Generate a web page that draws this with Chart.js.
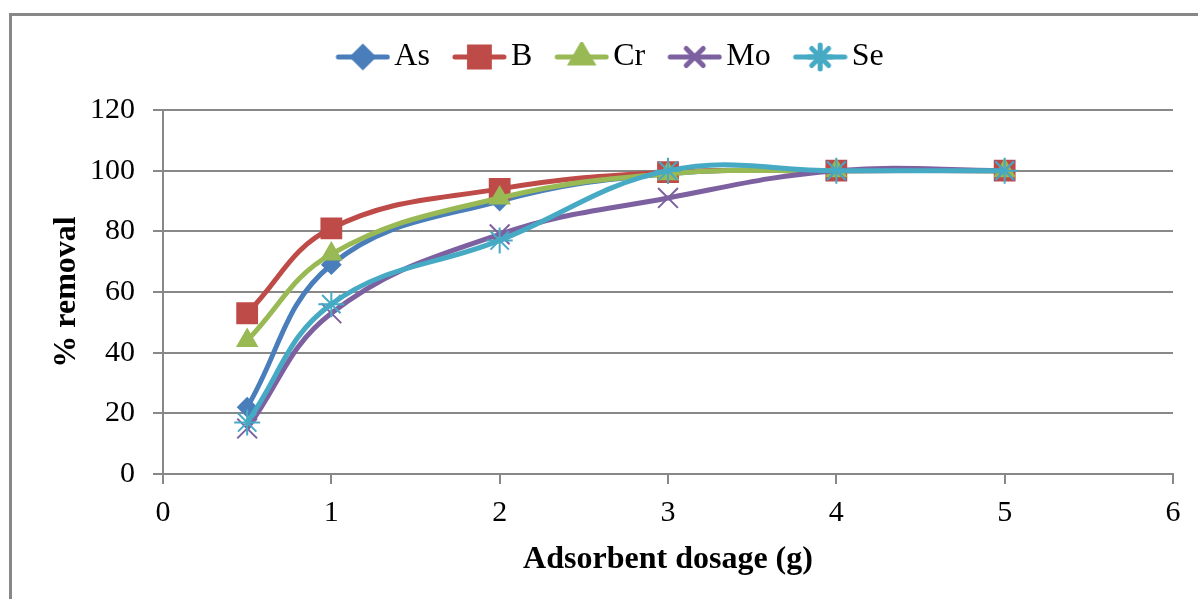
<!DOCTYPE html>
<html>
<head>
<meta charset="utf-8">
<title>% removal vs adsorbent dosage</title>
<script src="https://cdn.jsdelivr.net/npm/chart.js@4.4.0/dist/chart.umd.min.js"></script>
<style>
    html, body { margin: 0; padding: 0; background: #fff; }
    #wrap { position: relative; width: 1198px; height: 599px; overflow: hidden; }
    #frame { position: absolute; left: 9px; top: 13px; width: 1300px; height: 700px; border: 3px solid #888; box-sizing: border-box; }
    canvas { position: absolute; left: 0; top: 0; }
</style>
</head>
<body>
<div id="wrap">
    <div id="frame"></div>
    <canvas id="removalChart" width="1198" height="599"></canvas>
</div>
<script>
// Data
const dosage = [0.5, 1, 2, 3, 4, 5];
const asRemoval = [22, 69, 90, 99, 100, 100];
const bRemoval  = [53, 81, 94, 99.5, 100, 100];
const crRemoval = [44, 72.5, 91, 99, 100, 100];
const moRemoval = [15, 53, 79, 91, 100, 100];
const seRemoval = [17, 56, 77, 100, 100, 100];
const yTicks = [0, 20, 40, 60, 80, 100, 120];
const xTicks = [0, 1, 2, 3, 4, 5, 6];

const FONT = "'Liberation Serif', 'Times New Roman', serif";

const series = [
    { label: 'As', values: asRemoval, color: '#4A7EBB', style: 'rectRot', radius: 9 },
    { label: 'B',  values: bRemoval,  color: '#BE4B48', style: 'rect',    radius: 14 },
    { label: 'Cr', values: crRemoval, color: '#98B954', style: 'triangle', radius: 11 },
    { label: 'Mo', values: moRemoval, color: '#7D60A0', style: 'crossRot', radius: 14 },
    { label: 'Se', values: seRemoval, color: '#46AAC5', style: 'star',    radius: 13 }
];

// small canvas with line + marker, used as legend symbol
function legendSymbol(s) {
    const c = document.createElement('canvas');
    c.width = 67;
    c.height = 30;
    const ctx = c.getContext('2d');
    ctx.strokeStyle = s.color;
    ctx.lineWidth = 5;
    ctx.lineCap = 'round';
    ctx.beginPath();
    ctx.moveTo(15, 15);
    ctx.lineTo(64, 15);
    ctx.stroke();
    ctx.fillStyle = s.color;
    Chart.helpers.drawPoint(ctx, {
        pointStyle: s.style,
        radius: s.style === 'rect' ? 14 : (s.style === 'rectRot' ? 10 : 12),
        rotation: 0,
        borderWidth: 2
    }, 39.5, 15);
    return c;
}

// extra room between legend and plot area
const legendGap = {
    id: 'legendGap',
    afterInit(chart) {
        const legend = chart.legend;
        const fit = legend.fit;
        legend.fit = function () {
            fit.call(this);
            this.height += 27;
        };
    }
};

const ctx = document.getElementById('removalChart').getContext('2d');
const chart = new Chart(ctx, {
    type: 'line',
    data: {
        datasets: series.map((s, i) => ({
            label: s.label,
            data: dosage.map((x, j) => ({ x: x, y: s.values[j] })),
            borderColor: s.color,
            backgroundColor: s.color,
            pointBackgroundColor: s.color,
            pointBorderColor: s.color,
            borderWidth: 5,
            pointStyle: s.style,
            pointRadius: s.radius,
            pointHoverRadius: s.radius,
            pointBorderWidth: 2,
            tension: 0.4,
            fill: false,
            order: series.length - i
        }))
    },
    options: {
        responsive: false,
        animation: false,
        layout: { padding: { left: 46, right: 25, top: 19, bottom: 0 } },
        plugins: {
            tooltip: { enabled: false },
            legend: {
                position: 'top',
                labels: {
                    usePointStyle: true,
                    pointStyleWidth: 43,
                    padding: 22,
                    color: '#000',
                    font: { family: FONT, size: 32 },
                    generateLabels: chart => chart.data.datasets.map((ds, i) => ({
                        text: ds.label,
                        datasetIndex: i,
                        pointStyle: legendSymbol(series[i]),
                        fillStyle: series[i].color,
                        strokeStyle: series[i].color,
                        lineWidth: 0,
                        fontColor: '#000',
                        hidden: false
                    }))
                }
            }
        },
        scales: {
            x: {
                type: 'linear',
                min: xTicks[0],
                max: xTicks[xTicks.length - 1],
                afterBuildTicks: scale => { scale.ticks = xTicks.map(v => ({ value: v })); },
                afterFit: scale => { scale.height = 125; },
                grid: { drawOnChartArea: false, drawTicks: true, tickLength: 10, color: '#888', lineWidth: 2 },
                border: { display: true, color: '#888', width: 2 },
                ticks: { color: '#000', padding: 11, font: { family: FONT, size: 30 } },
                title: {
                    display: true,
                    text: 'Adsorbent dosage (g)',
                    color: '#000',
                    font: { family: FONT, size: 32, weight: 'bold' },
                    padding: { top: 0, bottom: 20 }
                }
            },
            y: {
                min: yTicks[0],
                max: yTicks[yTicks.length - 1],
                afterBuildTicks: scale => { scale.ticks = yTicks.map(v => ({ value: v })); },
                afterFit: scale => { scale.width = 117; },
                grid: { color: '#888', lineWidth: 2, tickLength: 10 },
                border: { display: true, color: '#888', width: 2 },
                ticks: { color: '#000', padding: 18, font: { family: FONT, size: 30 } },
                title: {
                    display: true,
                    text: '% removal',
                    color: '#000',
                    font: { family: FONT, size: 32, weight: 'bold' },
                    padding: { top: 2, bottom: 0 }
                }
            }
        }
    },
    plugins: [legendGap]
});
</script>
</body>
</html>
